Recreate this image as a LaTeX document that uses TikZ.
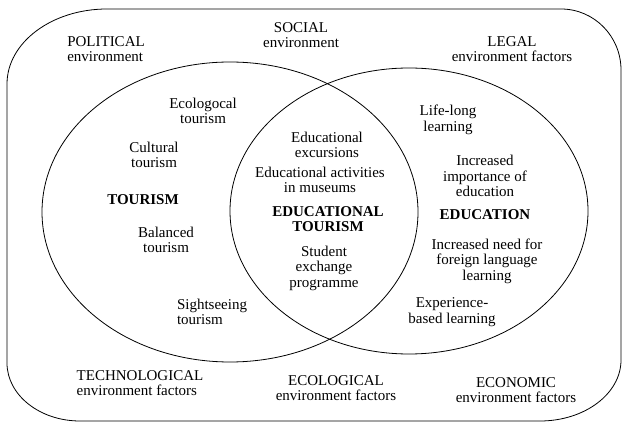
\documentclass[tikz,border=0pt]{standalone}
\usepackage{fontspec}
\setmainfont{Liberation Serif}

\tikzset{
  txt/.style={align=center, inner sep=0pt, font=\fontsize{15}{15.5}\selectfont},
  txtl/.style={txt, align=left},
  head/.style={txt, font=\fontsize{15}{15.5}\selectfont\bfseries}
}

\begin{document}
\begin{tikzpicture}[x=1pt, y=1pt, line width=0.8pt]
            \useasboundingbox (0,0) rectangle (623,423);

            % outer frame with uneven round corners
            \draw (7,339) -- (7,60)
                arc[start angle=180, end angle=270, x radius=73, y radius=58] -- (540,2)
                arc[start angle=270, end angle=360, x radius=81, y radius=61] -- (621,353)
                arc[start angle=0, end angle=90, x radius=60, y radius=61] -- (107,414)
                arc[start angle=90, end angle=180, x radius=100, y radius=75];

            % the two sets
            \draw (230,211) ellipse[x radius=188, y radius=150];
            \draw (409,212) ellipse[x radius=179, y radius=143];

            % environment factors round the sets
            \node[txtl] (political) at (106,374) {POLITICAL\\environment};
            \node[txt] (social) at (301,388) {SOCIAL\\environment};
            \node[txt] (legal) at (512,374) {LEGAL\\environment factors};
            \node[txtl] (technological) at (140,40) {TECHNOLOGICAL\\environment factors};
            \node[txt] (ecological) at (336,35) {ECOLOGICAL\\environment factors};
            \node[txt] (economic) at (516,33) {ECONOMIC\\environment factors};

            % tourism side
            \node[txt] (ecotour) at (203,312) {Ecologocal\\tourism};
            \node[txt] (cultour) at (154,268) {Cultural\\tourism};
            \node[head] (tourism) at (143,223) {TOURISM};
            \node[txt] (baltour) at (166,183) {Balanced\\tourism};
            \node[txtl] (sighttour) at (212,111) {Sightseeing\\tourism};

            % overlap
            \node[txt] (excursions) at (327,278) {Educational\\excursions};
            \node[txt] (museums) at (320,243) {Educational activities\\in museums};
            \node[head] (edutour) at (328,204) {EDUCATIONAL\\TOURISM};
            \node[txt] (exchange) at (324,155) {Student\\exchange\\programme};

            % education side
            \node[txt] (lifelong) at (448,303) {Life-long\\learning};
            \node[txt] (importance) at (485,247) {Increased\\importance of\\education};
            \node[head] (education) at (485,208) {EDUCATION};
            \node[txt] (language) at (487,162) {Increased need for\\foreign language\\learning};
            \node[txt] (experience) at (452,111) {Experience-\\based learning};
\end{tikzpicture}
\end{document}
